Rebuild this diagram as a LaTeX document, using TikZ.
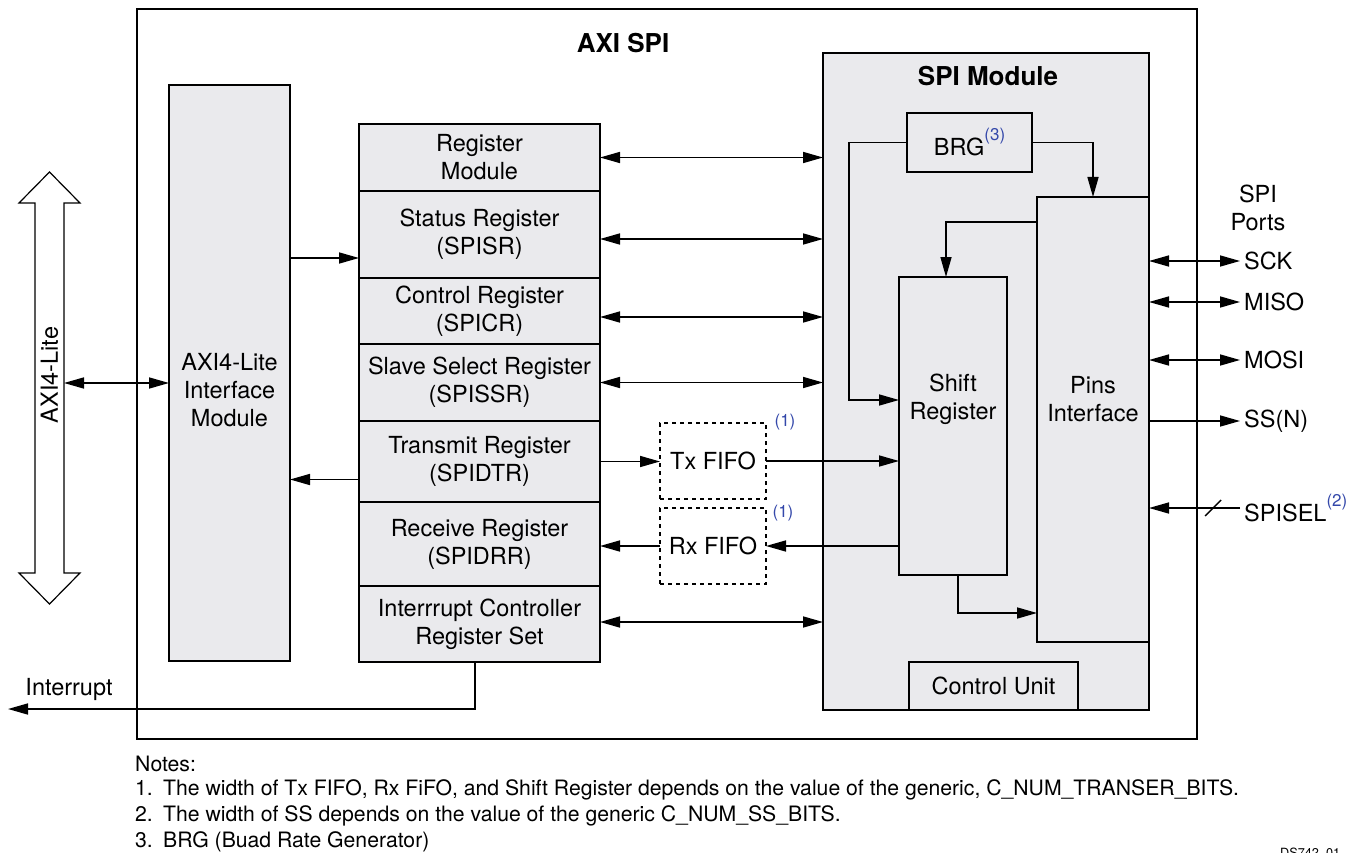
\documentclass[tikz,border=0pt]{standalone}
\usepackage{fontspec}
\setmainfont{TeX Gyre Heros}
\usetikzlibrary{arrows.meta}
\definecolor{boxgray}{RGB}{234,234,237}
\definecolor{noteblue}{RGB}{52,72,170}
\tikzset{
  txt/.style={font=\fontsize{23.5}{28}\selectfont, align=center, inner sep=0pt},
  blk/.style={draw, line width=1.8pt, fill=boxgray, inner sep=0pt, outer sep=0pt, anchor=north west, txt},
  fifo/.style={draw, line width=2pt, dash pattern=on 4pt off 4pt, fill=white, inner sep=0pt, outer sep=0pt, anchor=north west, txt},
  arr/.style={-{Triangle[length=20pt,width=11pt]}, line width=1.6pt},
  dbl/.style={{Triangle[length=20pt,width=11pt]}-{Triangle[length=20pt,width=11pt]}, line width=1.6pt},
  port/.style={txt, anchor=west, inner sep=4pt},
  sup/.style={text=noteblue, font=\fontsize{17}{19}\selectfont, inner sep=0pt},
  notetxt/.style={font=\fontsize{21.2}{24}\selectfont, anchor=west, inner sep=0pt},
  title/.style={font=\fontsize{26}{30}\selectfont\bfseries, inner sep=0pt}
}
\newcommand{\bluesup}[1]{\raisebox{15pt}{\fontsize{17}{19}\selectfont\color{noteblue}#1}}
\begin{document}
\begin{tikzpicture}[x=1pt,y=-1pt]
\useasboundingbox (0,0) rectangle (1357,853);
% outer box
\node[draw, line width=2.2pt, fill=white, inner sep=0pt, outer sep=0pt, anchor=north west,
      minimum width=1060pt, minimum height=730pt] (outer) at (137,9) {};
\node[title] (axititle) at (623,43) {AXI SPI};

% hollow AXI4-Lite double arrow
\draw[line width=1.2pt, fill=white] (35,573) -- (35,203) -- (19,203) -- (49.5,172) -- (80,203) -- (64,203)
   -- (64,573) -- (80,573) -- (49.5,604) -- (19,573) -- cycle;
\node[txt, rotate=90] (axilite) at (49.5,375) {AXI4-Lite};
\coordinate (hollowR) at (64,383);

% AXI4-Lite interface module
\node[blk, minimum width=121pt, minimum height=576pt] (axi) at (169,85) {};
\node[txt] (axitext) at (229.5,390) {AXI4-Lite\\Interface\\Module};

% register stack
\node[blk, minimum width=241pt, minimum height=67pt] (reg1) at (359,124) {Register\\Module};
\node[blk, minimum width=241pt, minimum height=87pt] (reg2) at (359,191) {Status Register\\(SPISR)};
\node[blk, minimum width=241pt, minimum height=66pt] (reg3) at (359,278) {Control Register\\(SPICR)};
\node[blk, minimum width=241pt, minimum height=77pt] (reg4) at (359,344) {Slave Select Register\\(SPISSR)};
\node[blk, minimum width=241pt, minimum height=81pt] (reg5) at (359,421) {Transmit Register\\(SPIDTR)};
\node[blk, minimum width=241pt, minimum height=84pt] (reg6) at (359,502) {Receive Register\\(SPIDRR)};
\node[blk, minimum width=241pt, minimum height=76pt] (reg7) at (359,586) {Interrrupt Controller\\Register Set};

% FIFOs
\node[fifo, minimum width=106pt, minimum height=76pt] (txf) at (660,423) {Tx FIFO};
\node[fifo, minimum width=106pt, minimum height=76pt] (rxf) at (660,508) {Rx FIFO};
\node[sup] (txsup) at (785,422) {(1)};
\node[sup] (rxsup) at (783,513) {(1)};

% SPI module
\node[blk, minimum width=326pt, minimum height=657pt] (spi) at (823,53) {};
\node[title] (spititle) at (988,76) {SPI Module};
\node[blk, minimum width=125pt, minimum height=59pt] (brg) at (907,113) {BRG\bluesup{(3)}};
\node[blk, minimum width=112pt, minimum height=445pt] (pins) at (1037,197) {};
\node[txt] (pinstext) at (1093,399) {Pins\\Interface};
\node[blk, minimum width=108pt, minimum height=298pt] (shift) at (899,277) {};
\node[txt] (shifttext) at (953,399) {Shift\\Register};
\node[blk, minimum width=169pt, minimum height=48pt] (cu) at (909,662) {Control Unit};

% connectors: AXI side
\draw[dbl] (hollowR) -- (hollowR -| axi.west);
\draw[arr] ([yshift=-23.5pt]reg2.west -| axi.east) -- ([yshift=-23.5pt]reg2.west);
\draw[arr] ([yshift=-18pt]reg5.west) -- ([yshift=-18pt]reg5.west -| axi.east);

% registers to SPI module
\draw[dbl] (reg1.east) -- (reg1.east -| spi.west);
\draw[dbl] ([yshift=-4.5pt]reg2.east) -- ([yshift=-4.5pt]reg2.east -| spi.west);
\draw[dbl] ([yshift=-6pt]reg3.east) -- ([yshift=-6pt]reg3.east -| spi.west);
\draw[dbl] (reg4.east) -- (reg4.east -| spi.west);
\draw[dbl] ([yshift=2pt]reg7.east) -- ([yshift=2pt]reg7.east -| spi.west);

% FIFO paths
\draw[arr] (reg5.east) -- (reg5.east -| txf.west);
\draw[arr] (txf.east) -- (txf.east -| shift.west);
\draw[arr] (rxf.east -| shift.west) -- (rxf.east);
\draw[arr] (rxf.west) -- (rxf.west -| reg6.east);

% interrupt
\coordinate (irqend) at (8,709);
\draw[arr] ([xshift=-4.5pt]reg7.south) |- (irqend);
\node[txt] (irqlbl) at (69,689) {Interrupt};

% inside SPI module
\draw[arr] (brg.west) -- ++(-58,0) |- ([yshift=26pt]shift.west);
\draw[arr] (brg.east) -| (pins.north);
\draw[arr] ([yshift=-25pt]pins.north west) -| ([xshift=-7pt]shift.north);
\draw[arr] ([xshift=5pt]shift.south) |- ([yshift=-193.5pt]pins.west);

% ports
\node[txt] (portsttl) at (1258,208) {SPI\\Ports};
\node[port] (sck) at (1240,261) {SCK};
\node[port] (miso) at (1240,302) {MISO};
\node[port] (mosi) at (1240,360) {MOSI};
\node[port] (ssn) at (1240,421) {SS(N)};
\node[port] (spisel) at (1240,508) {SPISEL\bluesup{(2)}};
\draw[dbl] (sck.west -| pins.east) -- (sck.west);
\draw[dbl] (miso.west -| pins.east) -- (miso.west);
\draw[dbl] (mosi.west -| pins.east) -- (mosi.west);
\draw[arr] (ssn.west -| pins.east) -- (ssn.west);
\draw[arr] (spisel.west) -- (spisel.west -| pins.east);
\draw[line width=1.4pt] (1205,516) -- (1221,500);

% notes
\node[notetxt] (n0) at (135,764) {Notes:};
\node[notetxt] (n1) at (135,790) {\makebox[28pt][l]{1.}The width of Tx FIFO, Rx FiFO, and Shift Register depends on the value of the generic, C\_NUM\_TRANSER\_BITS.};
\node[notetxt] (n2) at (135,816) {\makebox[28pt][l]{2.}The width of SS depends on the value of the generic C\_NUM\_SS\_BITS.};
\node[notetxt] (n3) at (135,842) {\makebox[28pt][l]{3.}BRG (Buad Rate Generator)};
\node[font=\fontsize{12.7}{14}\selectfont, anchor=base west, inner sep=0pt] (ds) at (1280,857) {DS742\_01};
\end{tikzpicture}
\end{document}
